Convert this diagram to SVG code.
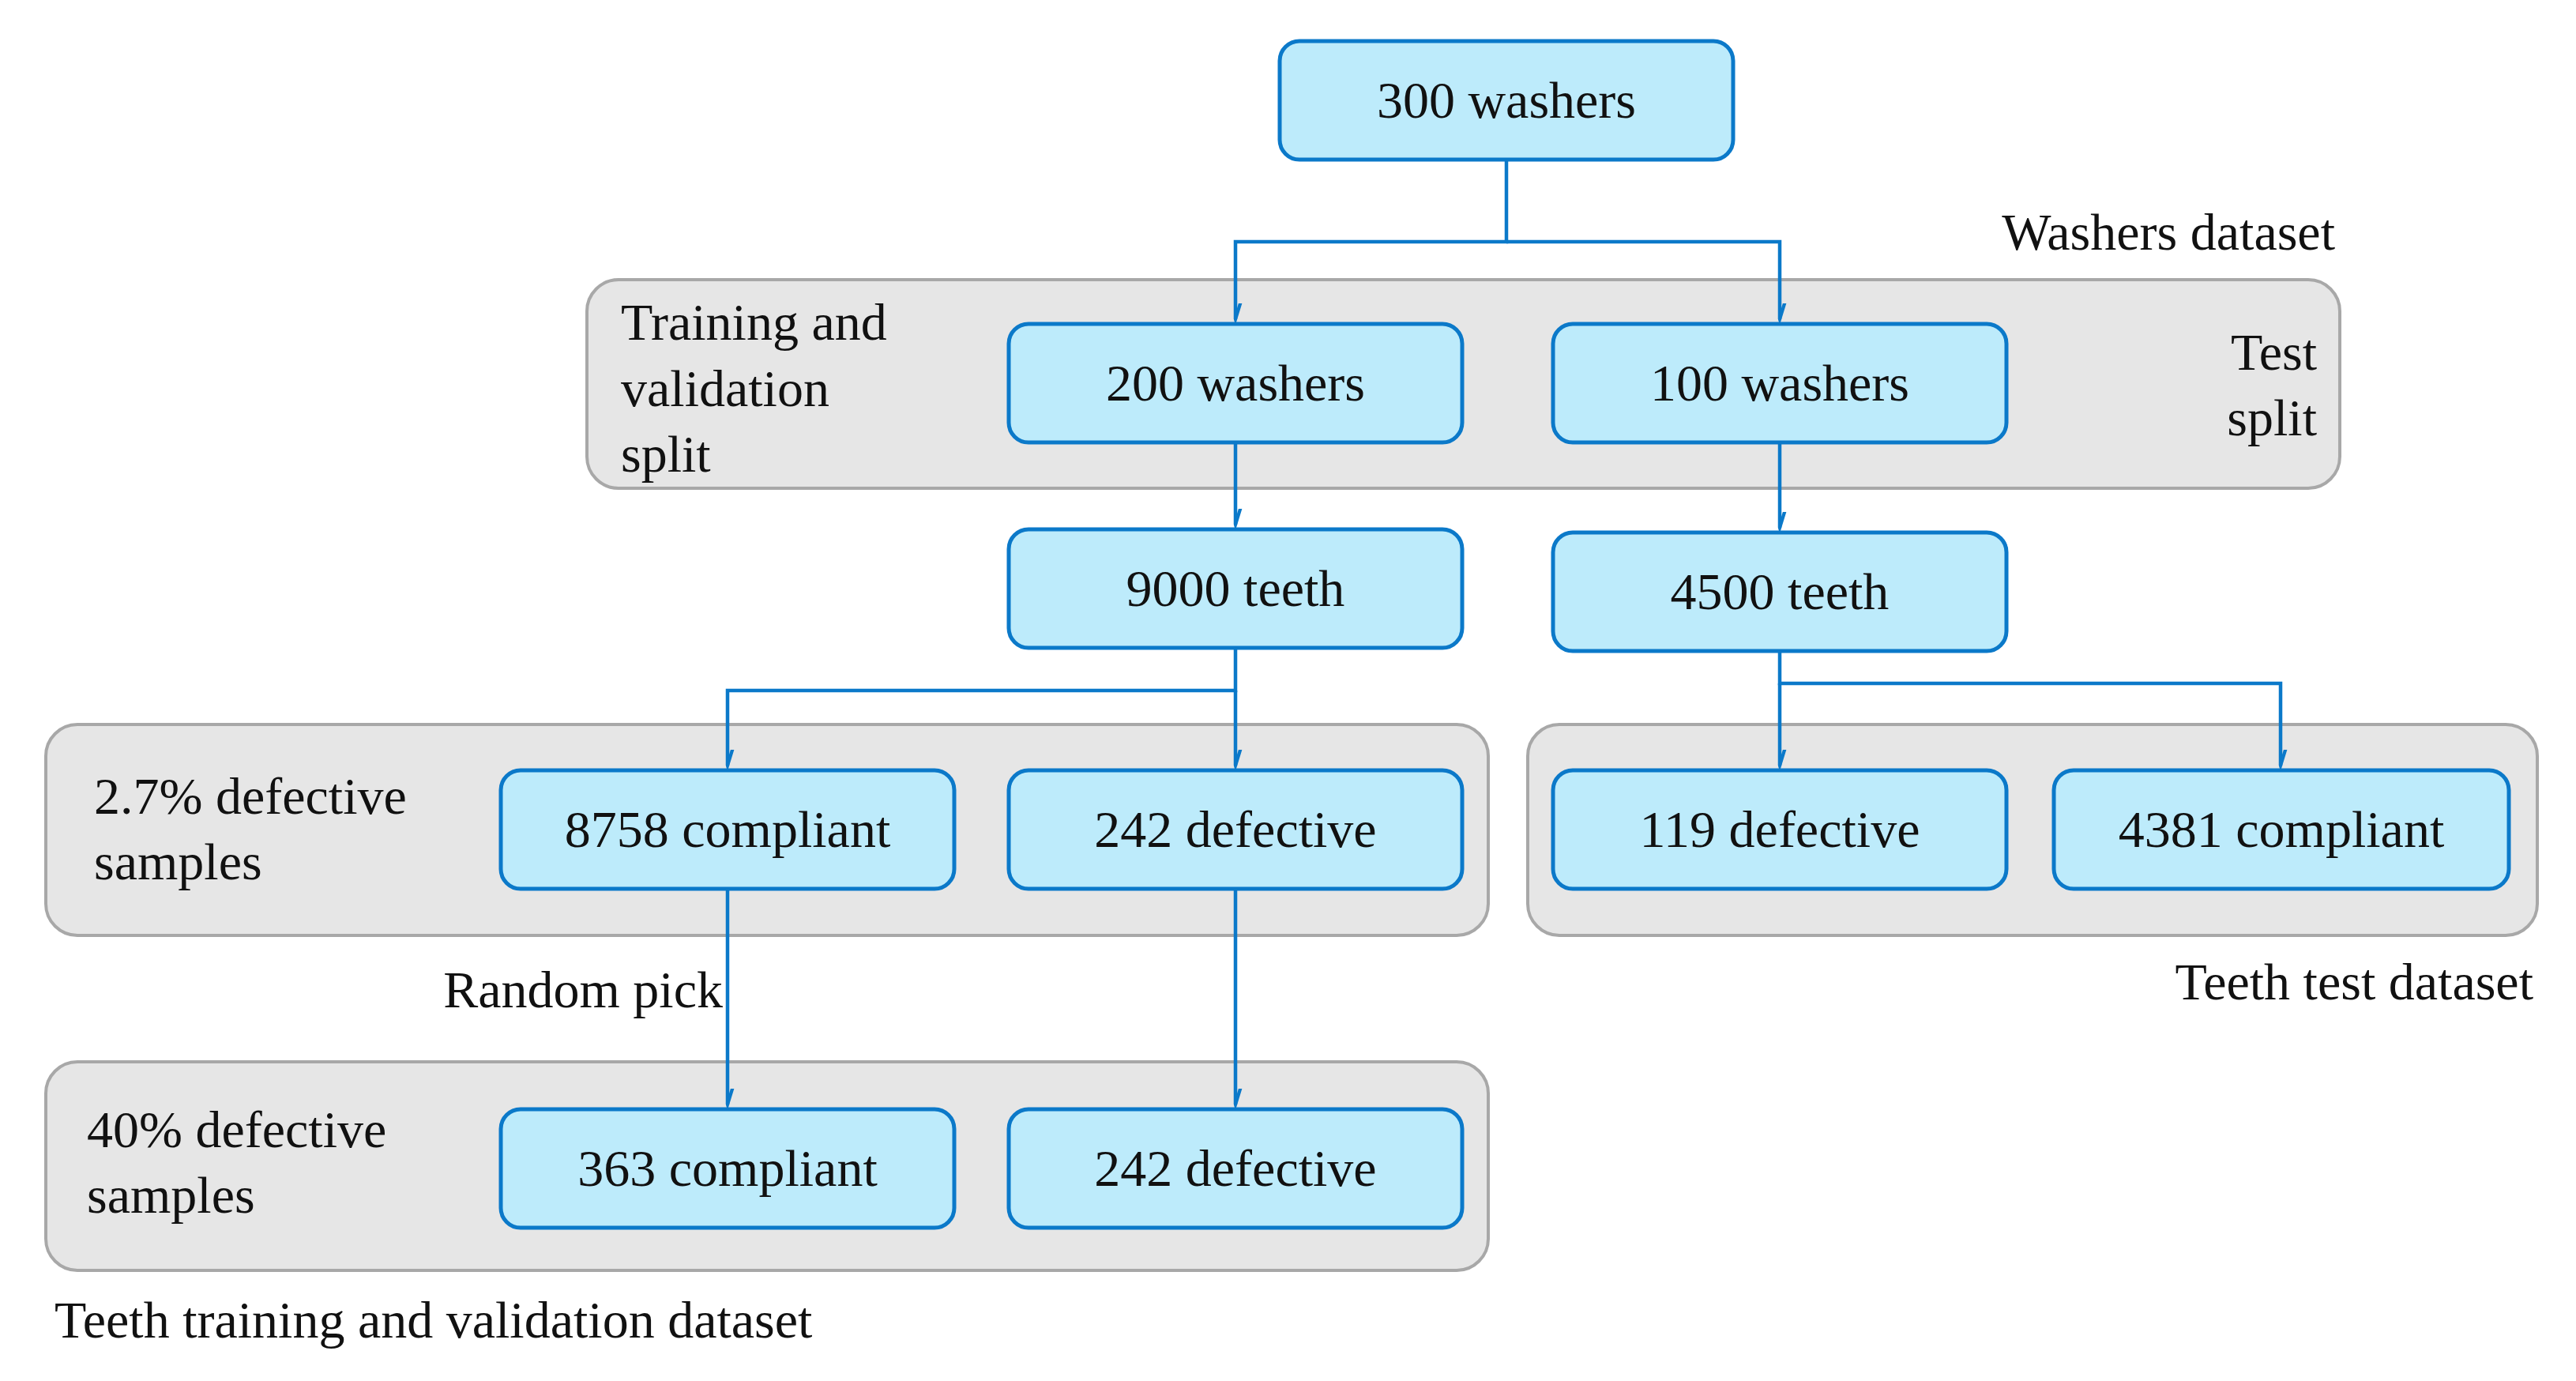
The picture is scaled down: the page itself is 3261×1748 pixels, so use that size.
<svg xmlns="http://www.w3.org/2000/svg" width="3261" height="1748" viewBox="0 0 3261 1748">
<style>
.panel{fill:#e6e6e6;stroke:#a8a8a8;stroke-width:4}
.box{fill:#bdebfb;stroke:#0b79c9;stroke-width:5}
.t{font-family:"Liberation Serif",serif;font-size:66px;fill:#111}
.c{text-anchor:middle}
.r{text-anchor:end}
.ln{fill:none;stroke:#0b79c9;stroke-width:4.5}
</style>
<defs>
<marker id="ah" markerUnits="userSpaceOnUse" markerWidth="40" markerHeight="40" viewBox="-20 -40 40 42" refX="0" refY="0" orient="auto-start-reverse">
<path d="M-11,-36 L0,0 L11,-36" fill="none" stroke="#0b79c9" stroke-width="4.5" transform="rotate(-90)"/>
</marker>
</defs>
<rect width="3261" height="1748" fill="#fff"/>
<g id="panels">
<rect class="panel" x="743" y="354" width="2219" height="264" rx="40"/>
<rect class="panel" x="58" y="917" width="1826" height="267" rx="40"/>
<rect class="panel" x="1934" y="917" width="1278" height="267" rx="40"/>
<rect class="panel" x="58" y="1344" width="1826" height="264" rx="40"/>
</g>
<g id="labels">
<text class="t r" x="2956" y="316">Washers dataset</text>
<text class="t" x="786" y="430">Training and</text>
<text class="t" x="786" y="514">validation</text>
<text class="t" x="786" y="597">split</text>
<text class="t r" x="2933" y="468">Test</text>
<text class="t r" x="2933" y="551">split</text>
<text class="t" x="119" y="1030">2.7% defective</text>
<text class="t" x="119" y="1113">samples</text>
<text class="t r" x="915" y="1275">Random pick</text>
<text class="t r" x="3207" y="1265">Teeth test dataset</text>
<text class="t" x="110" y="1452">40% defective</text>
<text class="t" x="110" y="1535">samples</text>
<text class="t" x="69" y="1693">Teeth training and validation dataset</text>
</g>
<g id="connectors">
<path class="ln" d="M1907,202 V306 H1564 V404" marker-end="url(#ah)"/>
<path class="ln" d="M1907,306 H2253 V404" marker-end="url(#ah)"/>
<path class="ln" d="M1564,560 V664" marker-end="url(#ah)"/>
<path class="ln" d="M2253,560 V668" marker-end="url(#ah)"/>
<path class="ln" d="M1564,820 V874 H921 V969" marker-end="url(#ah)"/>
<path class="ln" d="M1564,874 V969" marker-end="url(#ah)"/>
<path class="ln" d="M2253,824 V865 H2887 V969" marker-end="url(#ah)"/>
<path class="ln" d="M2253,865 V969" marker-end="url(#ah)"/>
<path class="ln" d="M921,1125 V1398" marker-end="url(#ah)"/>
<path class="ln" d="M1564,1125 V1398" marker-end="url(#ah)"/>
</g>
<g id="n300"><rect class="box" x="1620" y="52" width="574" height="150" rx="25"/><text class="t c" x="1907" y="149">300 washers</text></g>
<g id="n200"><rect class="box" x="1277" y="410" width="574" height="150" rx="25"/><text class="t c" x="1564" y="507">200 washers</text></g>
<g id="n100"><rect class="box" x="1966" y="410" width="574" height="150" rx="25"/><text class="t c" x="2253" y="507">100 washers</text></g>
<g id="n9000"><rect class="box" x="1277" y="670" width="574" height="150" rx="25"/><text class="t c" x="1564" y="767">9000 teeth</text></g>
<g id="n4500"><rect class="box" x="1966" y="674" width="574" height="150" rx="25"/><text class="t c" x="2253" y="771">4500 teeth</text></g>
<g id="n8758"><rect class="box" x="634" y="975" width="574" height="150" rx="25"/><text class="t c" x="921" y="1072">8758 compliant</text></g>
<g id="n242a"><rect class="box" x="1277" y="975" width="574" height="150" rx="25"/><text class="t c" x="1564" y="1072">242 defective</text></g>
<g id="n119"><rect class="box" x="1966" y="975" width="574" height="150" rx="25"/><text class="t c" x="2253" y="1072">119 defective</text></g>
<g id="n4381"><rect class="box" x="2600" y="975" width="576" height="150" rx="25"/><text class="t c" x="2888" y="1072">4381 compliant</text></g>
<g id="n363"><rect class="box" x="634" y="1404" width="574" height="150" rx="25"/><text class="t c" x="921" y="1501">363 compliant</text></g>
<g id="n242b"><rect class="box" x="1277" y="1404" width="574" height="150" rx="25"/><text class="t c" x="1564" y="1501">242 defective</text></g>
</svg>
